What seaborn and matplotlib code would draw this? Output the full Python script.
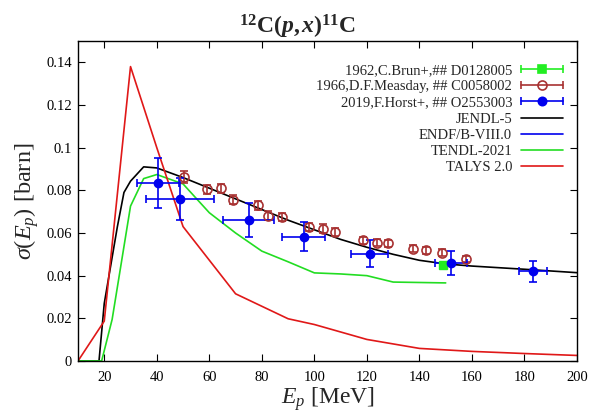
import numpy as np
import pandas as pd
import matplotlib
matplotlib.use("Agg")
import matplotlib.pyplot as plt
from matplotlib.lines import Line2D
from matplotlib.legend_handler import HandlerBase
from matplotlib.ticker import FuncFormatter, MultipleLocator
import seaborn as sns

# --- Evaluated / model cross sections (E in MeV, sigma in barn) ---
jendl_e = [10, 18, 20, 22, 25, 27.5, 30, 35, 40, 50, 60, 70, 80, 90, 100, 110, 120, 130, 140, 150, 160, 180, 200]
jendl_s = [0, 0, 0.027, 0.0414, 0.063, 0.079, 0.0843, 0.091, 0.0905, 0.086, 0.081, 0.076, 0.071,
           0.066, 0.0615, 0.057, 0.0533, 0.050, 0.0472, 0.0455, 0.0445, 0.043, 0.0414]

tendl_e = [10, 19, 23, 30, 35, 40, 50, 60, 70, 80, 90, 100, 110, 120, 130, 150]
tendl_s = [0, 0, 0.0195, 0.0726, 0.0855, 0.0874, 0.083, 0.0695, 0.060, 0.0515, 0.0465,
           0.0413, 0.0408, 0.040, 0.037, 0.0366]

talys_e = [10, 20, 30, 40, 50, 70, 90, 100, 120, 140, 160, 180, 200]
talys_s = [0, 0.0187, 0.138, 0.100, 0.063, 0.0315, 0.0198, 0.0171, 0.0101, 0.0059, 0.0045, 0.0035, 0.0026]

# --- Experimental data ---
brun_e = [149]
brun_s = [0.0449]
brun_ds = [0.0008]

measday_e = [50.2, 59.1, 64.4, 69.2, 78.6, 82.2, 87.7, 98.1, 103.1, 108.0, 118.7, 123.7, 127.9,
             137.4, 142.5, 148.5, 157.8]
measday_s = [0.0863, 0.0804, 0.0809, 0.0757, 0.0730, 0.0682, 0.0674, 0.0629, 0.0621, 0.0606,
             0.0565, 0.0554, 0.0551, 0.0526, 0.0519, 0.0507, 0.0479]
measday_ds = [0.0027, 0.0022, 0.0022, 0.0021, 0.0021, 0.0020, 0.0020, 0.0019, 0.0019, 0.0018,
              0.0017, 0.0017, 0.0017, 0.0016, 0.0016, 0.0016, 0.0015]

horst_e = [40.3, 48.9, 75.0, 95.9, 121.0, 152.0, 183.2]
horst_s = [0.0835, 0.0760, 0.0659, 0.0582, 0.0503, 0.0460, 0.0421]
horst_ds = [0.0117, 0.0100, 0.0080, 0.0068, 0.0064, 0.0057, 0.0050]
horst_de = [8.0, 13.0, 9.8, 8.1, 7.0, 6.0, 5.4]

legend_labels = ["1962,C.Brun+,## D0128005", "1966,D.F.Measday, ## C0058002",
                 "2019,F.Horst+, ## O2553003", "JENDL-5", "ENDF/B-VIII.0", "TENDL-2021", "TALYS 2.0"]

sns.set_theme(style="ticks")
plt.rcParams["font.family"] = ["Liberation Serif", "DejaVu Serif"]
plt.rcParams["mathtext.fontset"] = "custom"
plt.rcParams["mathtext.rm"] = "Liberation Serif"
plt.rcParams["mathtext.it"] = "Liberation Serif:italic"
plt.rcParams["mathtext.bf"] = "Liberation Serif:bold"
plt.rcParams["mathtext.bfit"] = "Liberation Serif:bold:italic"


class PointKey:
    """Legend key: horizontal error bar with end caps and a marker in the middle."""
    def __init__(self, color, marker, ms, mfc):
        self.color, self.marker, self.ms, self.mfc = color, marker, ms, mfc


class HandlerPointKey(HandlerBase):
    def create_artists(self, legend, orig, xdescent, ydescent, width, height, fontsize, trans):
        y = height / 2 - ydescent
        x0, x1 = -xdescent, -xdescent + width
        bar = Line2D([x0, x1], [y, y], color=orig.color, lw=1.2)
        caps = Line2D([x0, x1], [y, y], color=orig.color, ls="none", marker="|", ms=6, mew=1.2)
        mid = Line2D([(x0 + x1) / 2], [y], color=orig.color, ls="none", marker=orig.marker,
                     ms=orig.ms, mfc=orig.mfc, mew=1.2)
        for a in (bar, caps, mid):
            a.set_transform(trans)
        return [bar, caps, mid]


fig = plt.figure(figsize=(5.94, 4.12), dpi=100)
ax = fig.add_axes([0.1313, 0.1238, 0.8401, 0.7767])

models = pd.concat([
    pd.DataFrame({"E": jendl_e, "sigma": jendl_s, "lib": "JENDL-5"}),
    pd.DataFrame({"E": tendl_e, "sigma": tendl_s, "lib": "TENDL-2021"}),
    pd.DataFrame({"E": talys_e, "sigma": talys_s, "lib": "TALYS 2.0"}),
])
colors = {"JENDL-5": "black", "ENDF/B-VIII.0": "#0000ee", "TENDL-2021": "#22dd22",
          "TALYS 2.0": "#e01818"}
for lib, grp in models.groupby("lib", sort=False):
    sns.lineplot(data=grp, x="E", y="sigma", color=colors[lib], lw=1.2, ax=ax,
                 legend=False, sort=False)

err_kw = dict(lw=1.2, capsize=3, capthick=1.2, elinewidth=1.2, linestyle="none")
ax.errorbar(brun_e, brun_s, yerr=brun_ds, color="#22ee22", marker="s", ms=6, **err_kw)
ax.errorbar(measday_e, measday_s, yerr=measday_ds, color="#a83232",
            marker="o", ms=6.5, mfc="none", mew=1.2, **err_kw)
ax.errorbar(horst_e, horst_s, yerr=horst_ds, xerr=horst_de, color="#0000ee",
            marker="o", ms=6, **err_kw)

keys = [PointKey("#22ee22", "s", 6, "#22ee22"),
        PointKey("#a83232", "o", 6.5, "none"),
        PointKey("#0000ee", "o", 6, "#0000ee")]
keys += [Line2D([], [], color=colors[k], lw=1.2)
         for k in ["JENDL-5", "ENDF/B-VIII.0", "TENDL-2021", "TALYS 2.0"]]

ax.legend(keys, legend_labels, handler_map={PointKey: HandlerPointKey()},
          loc="upper right", bbox_to_anchor=(0.99, 0.955), frameon=False, markerfirst=False,
          fontsize=10.5, handlelength=2.9, labelspacing=0.2, handletextpad=0.6,
          borderaxespad=0.2)

ax.set_xlim(10, 200)
ax.set_ylim(0, 0.15)
ax.xaxis.set_major_locator(MultipleLocator(20))
ax.yaxis.set_major_locator(MultipleLocator(0.02))
ax.xaxis.set_major_formatter(FuncFormatter(lambda v, p: "" if v < 15 else f"{v:g}"))
ax.yaxis.set_major_formatter(FuncFormatter(lambda v, p: f"{v:g}" if v < 0.145 else ""))
ax.tick_params(direction="in", top=True, right=True, length=5, width=0.8,
               labelsize=10.5, colors="black")
ax.tick_params(axis="x", pad=7)
ax.tick_params(axis="y", pad=4.5)
for s in ax.spines.values():
    s.set_linewidth(1.0)
    s.set_color("black")

ax.set_xlabel(r"$E_p$ [MeV]", fontsize=17, labelpad=1)
ax.set_ylabel(r"$\sigma(E_p)$ [barn]", fontsize=17.5, labelpad=4)
fig.suptitle(r"$^{\mathbf{12}}\mathbf{C(}\mathbfit{p}\mathbf{,}\,\mathbfit{x}\mathbf{)}^{\mathbf{11}}\mathbf{C}$",
             fontsize=17, y=0.968)

fig.savefig("out.png", dpi=100)
